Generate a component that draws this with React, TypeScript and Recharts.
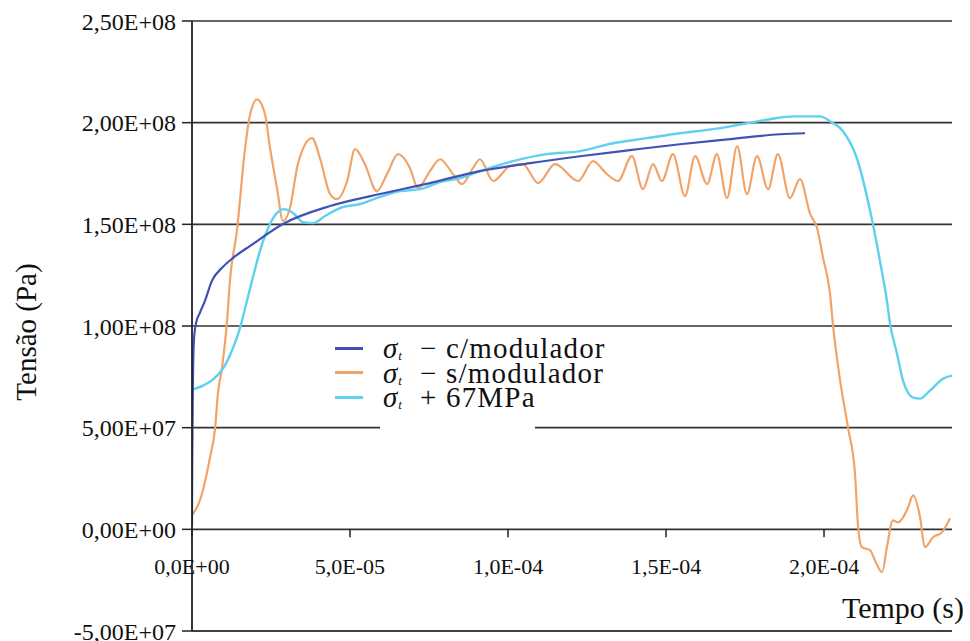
import React from 'react';
import { LineChart, Line, XAxis, YAxis, CartesianGrid, Legend } from 'recharts';

// ---- data (time in microseconds, stress in MPa) ----
const tempoComModulador = [0, 0.05, 0.3, 0.6, 1.3, 2.5, 4.1, 6.3, 9.5, 13, 18.4, 28.8, 43.7, 59.5, 75.3, 91.1, 107, 122.8, 138.6, 154.4, 170.3, 186, 194];
const tensaoComModulador = [2, 29, 73, 92.7, 101.6, 106.5, 112.4, 122.2, 128.6, 133.5, 139.4, 150.2, 159, 164.9, 170.3, 176.2, 180.1, 183.5, 186.5, 189.4, 191.9, 194.3, 194.8];

const tempoSemModulador = [0, 2.5, 5.7, 7.3, 8.2, 9.5, 11.1, 12, 14.2, 16.8, 18.4, 20.6, 23.1, 24.7, 26.9, 28.8, 31, 33.5, 38, 40.5, 43.7, 45.9, 49.1, 51.6, 54.7, 58.5, 61.7, 65.2, 69, 71.5, 75.3, 78.5, 82.6, 85.4, 88.9, 91.1, 95.3, 100.6, 104.7, 109.5, 114.9, 122.2, 126.9, 131.3, 134.8, 139.2, 142.7, 145.9, 148.7, 152.2, 156, 159.2, 163, 166.1, 169.3, 172.5, 175.6, 178.8, 182.3, 185.4, 189.2, 192.4, 195.6, 197.8, 199.7, 201.9, 202.8, 205.1, 207.6, 209.8, 210.8, 212, 214.6, 216.1, 218.4, 219.9, 221.8, 223.4, 225, 226.6, 228.2, 230.4, 231.9, 234.5, 237.3, 239.9];
const tensaoSemModulador = [6.9, 14.2, 35.3, 49.6, 66.7, 79.5, 102.6, 122.2, 146.7, 187.4, 204.1, 211.5, 204.1, 187.4, 167.8, 151.6, 158, 179.6, 192.4, 182.5, 164.9, 162.4, 171.3, 187, 179.6, 166.3, 174.7, 184.5, 177.6, 167.8, 176.2, 182, 174.7, 169.8, 177.6, 182, 171.3, 178.6, 179.6, 170.3, 179.6, 171.3, 181.1, 174.7, 171.3, 183.5, 167.3, 179.6, 171.3, 184.5, 163.9, 183.5, 169.8, 184.5, 162.9, 188.4, 164.9, 183.5, 167.3, 184.5, 162.9, 172.2, 155.1, 148.2, 133.5, 115.8, 101.1, 73.1, 50, 27.5, 1, -8.8, -10.3, -15.2, -21.1, -8.8, 4.4, 3.4, 5.9, 10.8, 16.7, 5.9, -8.8, -3.9, -1.5, 5.4];

const tempoMais67 = [0, 3.5, 6.6, 9.8, 13, 15.2, 17.4, 19, 21.5, 23.7, 26.9, 29.1, 32, 35.1, 38.3, 42.1, 46.8, 53.2, 59.5, 65.8, 72.2, 78.5, 84.8, 91.1, 101.6, 112.3, 122.8, 133.2, 144, 154.4, 164.9, 170.3, 175.6, 182.9, 190.2, 198.7, 201.9, 206, 210.4, 214.6, 217.7, 219.9, 220.9, 223.1, 225, 228.2, 230.4, 233.5, 237.7, 240.5];
const tensaoMais67 = [68.7, 70.7, 73.6, 79, 89.3, 99.1, 112.4, 122.2, 136.9, 146.7, 155.6, 157.5, 155.6, 151.1, 150.6, 154.1, 158, 160, 163.5, 166.3, 167.3, 170.8, 172.7, 176.2, 181.1, 184.5, 186, 189.9, 192.4, 194.8, 196.8, 198.2, 199.7, 201.7, 203.1, 203.1, 200.7, 195.8, 182.5, 156.5, 132, 112.4, 101.1, 86.4, 73.1, 64.8, 64.3, 68.2, 74.1, 75.6];

const xTicks = [0, 5e-5, 1e-4, 1.5e-4, 2e-4];
const xTickLabels = ['0,0E+00', '5,0E-05', '1,0E-04', '1,5E-04', '2,0E-04'];
const yTicks = [-5e7, 0, 5e7, 1e8, 1.5e8, 2e8, 2.5e8];
const yTickLabels = ['-5,00E+07', '0,00E+00', '5,00E+07', '1,00E+08', '1,50E+08', '2,00E+08', '2,50E+08'];

const legendSuffixes = ['\u2212 c/modulador', '\u2212 s/modulador', '+ 67MPa'];
const seriesColors = ['#4152b4', '#f2a468', '#5fd0ee'];

const toRows = (ts: number[], vs: number[]) => ts.map((t, i) => ({ t: t * 1e-6, v: vs[i] * 1e6 }));
const dataCom = toRows(tempoComModulador, tensaoComModulador);
const dataSem = toRows(tempoSemModulador, tensaoSemModulador);
const dataMais = toRows(tempoMais67, tensaoMais67);

// ---- layout ----
const W = 970;
const H = 641;
const MARGIN = { top: 21, right: 18, bottom: 9, left: 0 };
const X_AXIS_H = 1;
const Y_AXIS_W = 192;
const X_MAX = 2.405e-4;
const Y_MIN = -5e7;
const Y_MAX = 2.5e8;
const PLOT_H = H - MARGIN.top - MARGIN.bottom - X_AXIS_H;
const ZERO_FROM_BOTTOM = (PLOT_H * (0 - Y_MIN)) / (Y_MAX - Y_MIN);
const FONT = '"Liberation Serif", "DejaVu Serif", serif';

const XTick = (props: any) => {
  const { x, y, index } = props;
  const y0 = y - ZERO_FROM_BOTTOM;
  return (
    <g>
      <line x1={x} x2={x} y1={y0} y2={y0 + 8} stroke="#222" strokeWidth={1.5} />
      <text x={x} y={y0 + 45} textAnchor="middle" style={{ fontFamily: FONT, fontSize: 22 }} fill="#111">
        {xTickLabels[index]}
      </text>
    </g>
  );
};

const YTick = (props: any) => {
  const { x, y, index } = props;
  return (
    <text x={x} y={y} dy="0.36em" textAnchor="end" style={{ fontFamily: FONT, fontSize: 24 }} fill="#111">
      {yTickLabels[index]}
    </text>
  );
};

const renderLegend = () => (
  <div style={{ position: 'relative', width: 320, height: 105, fontFamily: FONT, color: '#111' }}>
    <div style={{ position: 'absolute', left: 50, top: 0, width: 155, height: 102, background: '#fff' }} />
    {legendSuffixes.map((s, i) => (
      <div
        key={i}
        style={{
          position: 'absolute',
          left: 5,
          top: 6 + i * 24.5,
          height: 24,
          display: 'flex',
          alignItems: 'center',
          whiteSpace: 'nowrap',
          fontSize: 29,
          lineHeight: '24px',
        }}
      >
        <span style={{ display: 'inline-block', width: 28, height: 3, background: seriesColors[i], marginRight: 20 }} />
        <span style={{ fontStyle: 'italic' }}>σ</span>
        <span style={{ fontStyle: 'italic', fontSize: 13, position: 'relative', top: 8, marginLeft: 1, marginRight: 18 }}>t</span>
        <span style={{ letterSpacing: 1.2 }}>{s}</span>
      </div>
    ))}
  </div>
);

export default function App() {
  return (
    <div style={{ position: 'absolute', left: 0, top: 0, width: W, height: H, background: '#fff', fontFamily: FONT }}>
      <LineChart width={W} height={H} margin={MARGIN}>
        <CartesianGrid horizontal vertical={false} stroke="#333" strokeWidth={1.6} />
        <XAxis
          dataKey="t"
          type="number"
          domain={[0, X_MAX]}
          allowDataOverflow
          ticks={xTicks}
          height={X_AXIS_H}
          tickLine={false}
          tickSize={0}
          tickMargin={0}
          axisLine={{ stroke: '#333', strokeWidth: 1.6 }}
          tick={<XTick />}
          interval={0}
          label={{
            content: (p: any) => {
              const vb = p.viewBox || {};
              return (
                <text x={(vb.x || 0) + (vb.width || 0) + 12} y={(vb.y || 0) - 13} textAnchor="end" style={{ fontFamily: FONT, fontSize: 30 }} fill="#111">
                  Tempo (s)
                </text>
              );
            },
          }}
        />
        <YAxis
          type="number"
          domain={[Y_MIN, Y_MAX]}
          ticks={yTicks}
          width={Y_AXIS_W}
          interval={0}
          tickSize={10}
          tickMargin={6}
          tickLine={{ stroke: '#222', strokeWidth: 1.5 }}
          axisLine={{ stroke: '#222', strokeWidth: 1.8 }}
          tick={<YTick />}
          label={{
            content: () => (
              <text x={36} y={332} transform="rotate(-90, 36, 332)" textAnchor="middle" style={{ fontFamily: FONT, fontSize: 29 }} fill="#111">
                Tensão (Pa)
              </text>
            ),
          }}
        />
        <Legend
          layout="horizontal"
          verticalAlign="middle"
          align="center"
          content={renderLegend}
          wrapperStyle={{ left: 330, top: 330, width: 320, height: 105 }}
        />
        <Line data={dataSem} dataKey="v" name="s/modulador" type="monotone" stroke={seriesColors[1]} strokeWidth={2.2} dot={false} isAnimationActive={false} />
        <Line data={dataMais} dataKey="v" name="+67MPa" type="monotone" stroke={seriesColors[2]} strokeWidth={2.4} dot={false} isAnimationActive={false} />
        <Line data={dataCom} dataKey="v" name="c/modulador" type="monotone" stroke={seriesColors[0]} strokeWidth={2.2} dot={false} isAnimationActive={false} />
      </LineChart>
    </div>
  );
}
